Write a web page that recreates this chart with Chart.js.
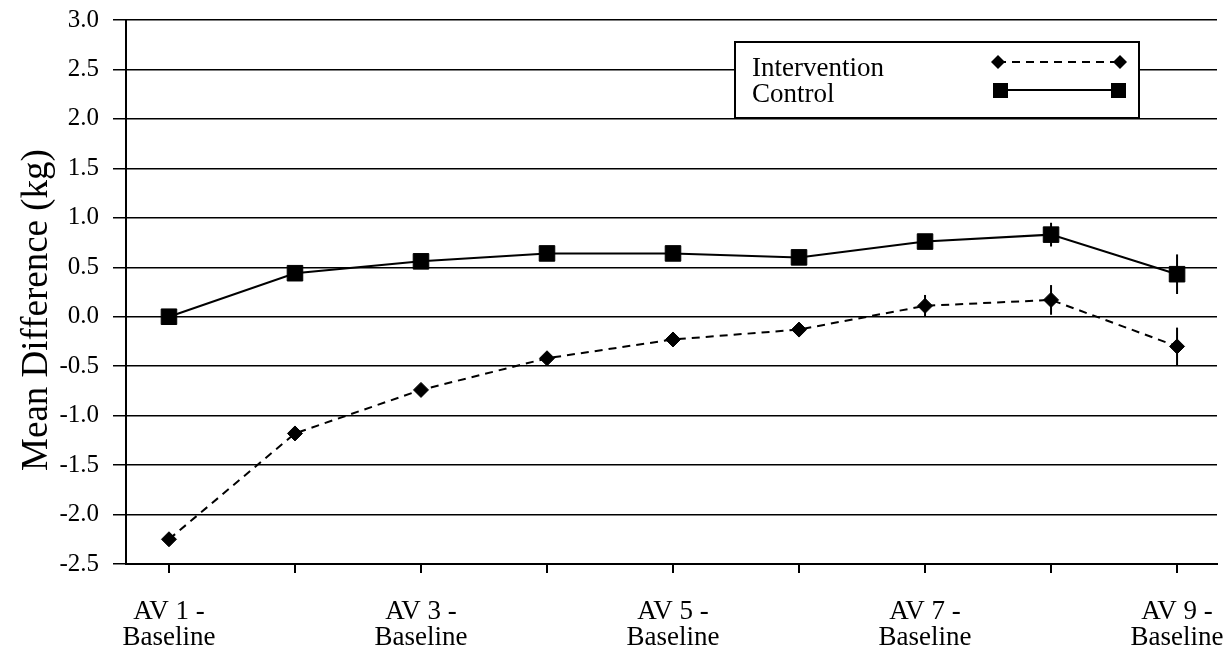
<!DOCTYPE html>
<html>
<head>
<meta charset="utf-8">
<script src="https://cdn.jsdelivr.net/npm/chart.js@4/dist/chart.umd.min.js"></script>
<style>
html,body{margin:0;padding:0;background:#fff;}
#wrap{width:1229px;height:656px;position:relative;}
</style>
</head>
<body>
<div id="wrap"><canvas id="c" width="1229" height="656"></canvas></div>
<script>
const categories = ["AV 1 - Baseline","AV 2 - Baseline","AV 3 - Baseline","AV 4 - Baseline","AV 5 - Baseline","AV 6 - Baseline","AV 7 - Baseline","AV 8 - Baseline","AV 9 - Baseline"];
const shownLabels = [["AV 1 -","Baseline"],[],["AV 3 -","Baseline"],[],["AV 5 -","Baseline"],[],["AV 7 -","Baseline"],[],["AV 9 -","Baseline"]];
const interventionValues = [-2.25,-1.18,-0.74,-0.42,-0.23,-0.13,0.11,0.17,-0.30];
const interventionErrors = [0.04,0.04,0.04,0.04,0.04,0.05,0.11,0.15,0.19];
const controlValues = [0.00,0.44,0.56,0.64,0.64,0.60,0.76,0.83,0.43];
const controlErrors = [0.03,0.04,0.04,0.04,0.04,0.05,0.07,0.12,0.20];
const yTickLabels = ["-2.5","-2.0","-1.5","-1.0","-0.5","0.0","0.5","1.0","1.5","2.0","2.5","3.0"];
const legendLabels = ["Intervention","Control"];
const yTitle = "Mean Difference (kg)";

const SERIF = "'Liberation Serif', 'DejaVu Serif', serif";

const errorBars = {
  id: 'errorBars',
  afterDatasetsDraw(chart) {
    const {ctx, scales:{x, y}} = chart;
    const sets = [[interventionValues, interventionErrors],[controlValues, controlErrors]];
    ctx.save();
    ctx.strokeStyle = '#000';
    ctx.lineWidth = 2;
    sets.forEach(([vals, errs]) => {
      vals.forEach((v, i) => {
        const px = x.getPixelForValue(i + 1);
        ctx.beginPath();
        ctx.moveTo(px, y.getPixelForValue(v - errs[i]));
        ctx.lineTo(px, y.getPixelForValue(v + errs[i]));
        ctx.stroke();
      });
    });
    ctx.restore();
  }
};

const yTitlePlugin = {
  id: 'yTitlePlugin',
  afterDraw(chart) {
    const ctx = chart.ctx;
    ctx.save();
    ctx.translate(37, 310);
    ctx.rotate(-Math.PI / 2);
    ctx.fillStyle = '#000';
    ctx.font = "37px " + SERIF;
    ctx.textAlign = 'center';
    ctx.textBaseline = 'middle';
    ctx.fillText(yTitle, 0, 0);
    ctx.restore();
  }
};

const legendBox = {
  id: 'legendBox',
  afterDraw(chart) {
    const ctx = chart.ctx;
    ctx.save();
    const bx = 735, by = 42, bw = 404, bh = 76;
    ctx.fillStyle = '#fff';
    ctx.fillRect(bx, by, bw, bh);
    ctx.strokeStyle = '#000';
    ctx.lineWidth = 2;
    ctx.strokeRect(bx, by, bw, bh);
    ctx.fillStyle = '#000';
    ctx.font = "27px " + SERIF;
    ctx.textBaseline = 'alphabetic';
    ctx.textAlign = 'left';
    ctx.fillText(legendLabels[0], 752, 76);
    ctx.fillText(legendLabels[1], 752, 102);
    ctx.lineWidth = 2;
    ctx.setLineDash([8,6]);
    ctx.beginPath(); ctx.moveTo(998, 62); ctx.lineTo(1120, 62); ctx.stroke();
    ctx.setLineDash([]);
    [998, 1120].forEach(cx => {
      ctx.beginPath();
      ctx.moveTo(cx, 62-7); ctx.lineTo(cx+7, 62); ctx.lineTo(cx, 62+7); ctx.lineTo(cx-7, 62); ctx.closePath();
      ctx.fill();
    });
    ctx.beginPath(); ctx.moveTo(1000, 90); ctx.lineTo(1118, 90); ctx.stroke();
    [1000, 1118].forEach(cx => { ctx.fillRect(cx-7, 90-7, 15, 15); });
    ctx.restore();
  }
};

new Chart(document.getElementById('c'), {
  type: 'line',
  data: {
    datasets: [
      {
        label: legendLabels[0],
        data: interventionValues.map((v, i) => ({x: i + 1, y: v})),
        borderColor: '#000',
        backgroundColor: '#000',
        borderWidth: 2,
        borderDash: [8, 6],
        pointStyle: 'rectRot',
        pointRadius: 7.5,
        pointBorderWidth: 1,
        pointBackgroundColor: '#000',
        tension: 0
      },
      {
        label: legendLabels[1],
        data: controlValues.map((v, i) => ({x: i + 1, y: v})),
        borderColor: '#000',
        backgroundColor: '#000',
        borderWidth: 2,
        pointStyle: 'rect',
        pointRadius: 11,
        pointBorderWidth: 1,
        pointBackgroundColor: '#000',
        tension: 0
      }
    ]
  },
  options: {
    responsive: false,
    animation: false,
    events: [],
    layout: { padding: { top: 20, right: 11, left: 0, bottom: 0 } },
    plugins: { legend: { display: false }, tooltip: { enabled: false } },
    scales: {
      x: {
        type: 'linear',
        min: 0.659,
        max: 9.317,
        afterBuildTicks(scale) {
          scale.ticks = categories.map((c, i) => ({ value: i + 1 }));
        },
        afterFit(scale) { scale.height = 92; scale.paddingLeft = 0; scale.paddingRight = 0; },
        grid: { drawOnChartArea: false, drawTicks: true, tickLength: 9, color: '#000', lineWidth: 2 },
        border: { display: true, color: '#000', width: 2 },
        ticks: {
          autoSkip: false,
          maxRotation: 0,
          padding: 26,
          color: '#000',
          font: { family: SERIF, size: 27, lineHeight: 0.97 },
          callback(v) { const l = shownLabels[Math.round(v) - 1]; return l && l.length ? l : ''; }
        }
      },
      y: {
        min: -2.5,
        max: 3.0,
        afterBuildTicks(scale) {
          scale.ticks = yTickLabels.map(t => ({ value: parseFloat(t) }));
        },
        afterFit(scale) { scale.width = 126; scale.paddingTop = 0; scale.paddingBottom = 0; },
        grid: { color: '#000', lineWidth: 1.5, drawTicks: true, tickLength: 13 },
        border: { display: true, color: '#000', width: 2 },
        ticks: {
          color: '#000',
          padding: 14,
          font: { family: SERIF, size: 25 },
          callback(v) { return yTickLabels.find(t => parseFloat(t) === v) || v.toFixed(1); }
        }
      }
    }
  },
  plugins: [errorBars, legendBox, yTitlePlugin]
});
</script>
</body>
</html>
